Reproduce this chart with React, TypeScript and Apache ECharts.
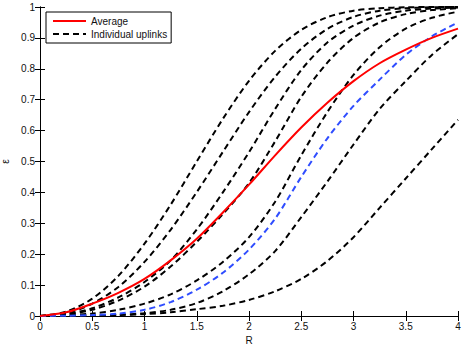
import React, { useEffect, useRef } from "react";
import * as echarts from "echarts";

const R = [0, 0.25, 0.5, 0.75, 1, 1.25, 1.5, 1.75, 2, 2.25, 2.5, 2.75, 3, 3.25, 3.5, 3.75, 4];

const average = [0, 0.012, 0.04, 0.075, 0.12, 0.18, 0.25, 0.335, 0.425, 0.52, 0.61, 0.69, 0.76, 0.818, 0.862, 0.9, 0.93];

const uplink1 = [0, 0.014, 0.056, 0.13, 0.234, 0.36, 0.5, 0.638, 0.761, 0.858, 0.926, 0.967, 0.988, 0.996, 0.999, 1.0, 1.0];
const uplink2 = [0, 0.009, 0.04, 0.094, 0.175, 0.279, 0.401, 0.531, 0.66, 0.774, 0.865, 0.929, 0.968, 0.988, 0.996, 0.999, 1.0];
const uplink3 = [0, 0.006, 0.025, 0.06, 0.11, 0.18, 0.28, 0.4, 0.53, 0.67, 0.796, 0.885, 0.94, 0.972, 0.988, 0.995, 0.998];
const uplink4 = [0, 0.005, 0.02, 0.05, 0.095, 0.16, 0.24, 0.33, 0.43, 0.565, 0.709, 0.82, 0.9, 0.95, 0.977, 0.99, 0.996];
const uplink5 = [0, 0.002, 0.008, 0.02, 0.04, 0.07, 0.115, 0.175, 0.255, 0.37, 0.52, 0.66, 0.78, 0.87, 0.93, 0.965, 0.985];
const uplinkBlue = [0, 0.001, 0.003, 0.008, 0.02, 0.045, 0.085, 0.14, 0.215, 0.315, 0.45, 0.575, 0.68, 0.765, 0.845, 0.905, 0.95];
const uplink6 = [0, 0.0005, 0.002, 0.004, 0.009, 0.02, 0.042, 0.08, 0.135, 0.21, 0.32, 0.435, 0.555, 0.67, 0.76, 0.845, 0.912];
const uplink7 = [0, 0, 0.001, 0.003, 0.006, 0.012, 0.022, 0.033, 0.052, 0.08, 0.12, 0.178, 0.255, 0.35, 0.445, 0.54, 0.635];

const blackUplinks = [uplink1, uplink2, uplink3, uplink4, uplink5, uplink6, uplink7];

const xTicks = { min: 0, max: 4, interval: 0.5 };
const yTicks = { min: 0, max: 1, interval: 0.1 };

const FONT = "'Liberation Sans', Arial, Helvetica, sans-serif";

function pairs(ys: number[]) {
  return R.map((r, i) => [r, ys[i]]);
}

export default function App() {
  const ref = useRef<HTMLDivElement>(null);
  useEffect(() => {
    if (!ref.current) return;
    const chart = echarts.init(ref.current, undefined, { renderer: "svg" });
    const axisLine = { show: true, lineStyle: { color: "#000", width: 1 } };
    const tickIn = { show: true, inside: true, length: 5, lineStyle: { color: "#000", width: 1 } };
    const dashed = [6, 4];
    const series: any[] = [];
    series.push({
      name: "Average",
      type: "line",
      data: pairs(average),
      smooth: 0.3,
      symbol: "none",
      lineStyle: { color: "#ff0000", width: 2 },
      itemStyle: { color: "#ff0000" },
      z: 5,
    });
    blackUplinks.forEach((u) => {
      series.push({
        name: "Individual uplinks",
        type: "line",
        data: pairs(u),
        smooth: 0.3,
        symbol: "none",
        lineStyle: { color: "#000", width: 2, type: dashed },
        itemStyle: { color: "#000" },
        z: 3,
      });
    });
    series.push({
      name: "Highlighted uplink",
      type: "line",
      data: pairs(uplinkBlue),
      smooth: 0.3,
      symbol: "none",
      lineStyle: { color: "#2f4dff", width: 2, type: dashed },
      itemStyle: { color: "#2f4dff" },
      z: 4,
    });
    chart.setOption({
      animation: false,
      backgroundColor: "#fff",
      textStyle: { fontFamily: FONT },
      grid: { left: 40, right: 5, top: 7, bottom: 32, containLabel: false, outerBoundsMode: "none" },
      legend: {
        data: ["Average", "Individual uplinks"],
        orient: "vertical",
        left: 46,
        top: 12,
        itemWidth: 33,
        itemHeight: 12,
        itemGap: 3,
        padding: [4, 4, 4, 6],
        borderColor: "#000",
        borderWidth: 1,
        borderRadius: 0,
        backgroundColor: "#fff",
        itemStyle: { opacity: 0 },
        textStyle: { fontFamily: FONT, fontSize: 10, color: "#111", padding: [0, 0, 0, 0] },
      },
      xAxis: [
        {
          type: "value",
          position: "bottom",
          ...xTicks,
          name: "R",
          nameLocation: "middle",
          nameGap: 15,
          nameTextStyle: { fontFamily: FONT, fontSize: 10, color: "#111" },
          axisLine,
          axisTick: tickIn,
          splitLine: { show: false },
          axisLabel: { fontFamily: FONT, fontSize: 10, color: "#111", margin: 5 },
        },
        {
          type: "value",
          position: "top",
          ...xTicks,
          axisLine,
          axisTick: tickIn,
          splitLine: { show: false },
          axisLabel: { show: false },
        },
      ],
      yAxis: [
        {
          type: "value",
          position: "left",
          ...yTicks,
          name: "ε",
          nameLocation: "middle",
          nameGap: 24,
          nameTextStyle: { fontFamily: FONT, fontSize: 10, color: "#111" },
          axisLine,
          axisTick: tickIn,
          splitLine: { show: false },
          axisLabel: { fontFamily: FONT, fontSize: 10, color: "#111", margin: 5 },
        },
        {
          type: "value",
          position: "right",
          ...yTicks,
          axisLine,
          axisTick: tickIn,
          splitLine: { show: false },
          axisLabel: { show: false },
        },
      ],
      series,
    });
    return () => chart.dispose();
  }, []);
  return <div ref={ref} style={{ width: 463, height: 348, position: "fixed", left: 0, top: 0 }} />;
}
